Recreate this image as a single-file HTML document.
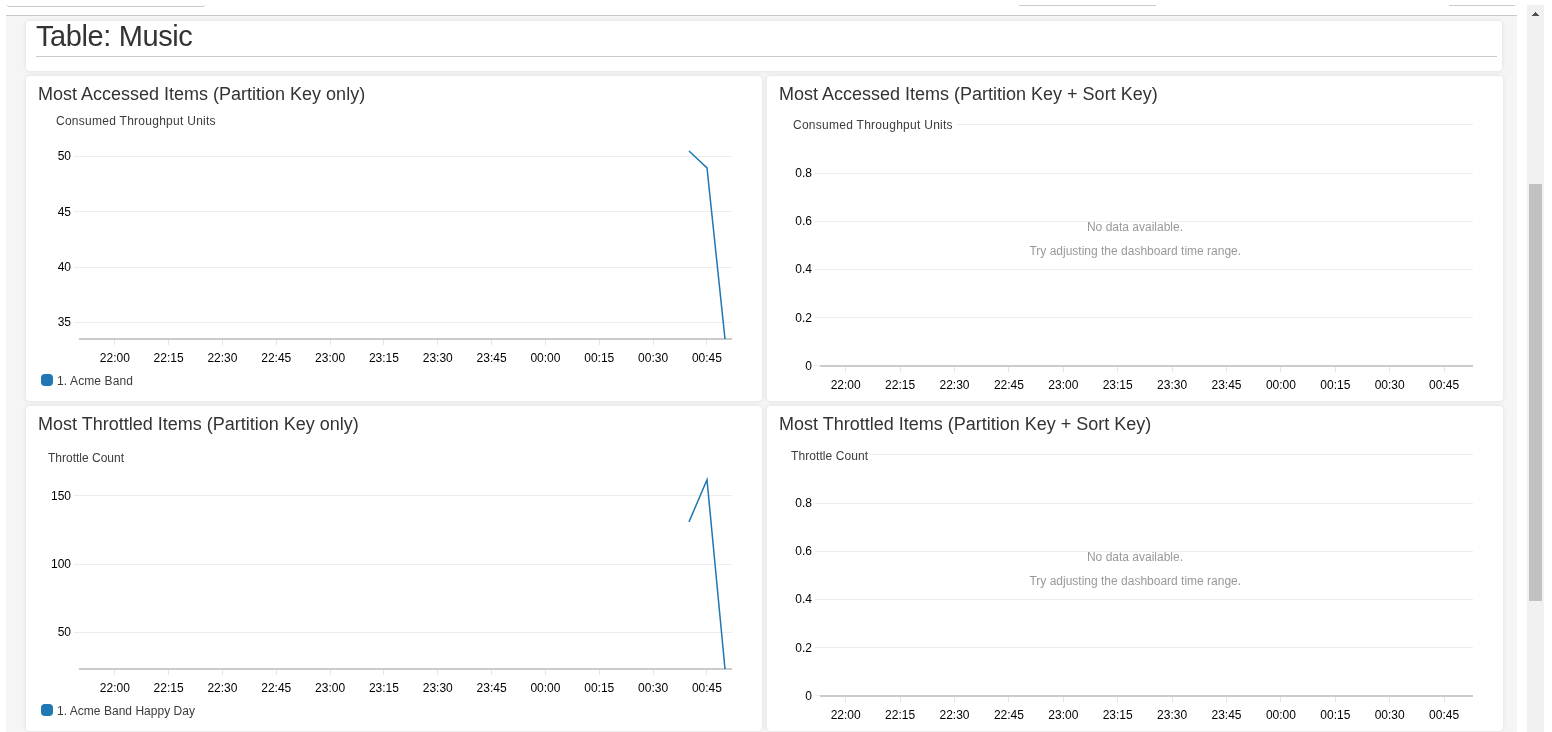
<!DOCTYPE html>
<html><head><meta charset="utf-8"><title>Table: Music</title>
<style>
html,body{margin:0;padding:0;}
body{width:1552px;height:732px;overflow:hidden;background:#fff;position:relative;font-family:"Liberation Sans",Arial,sans-serif;color:#333;}
.panel{position:absolute;left:6px;top:15px;width:1511px;height:717px;background:#f5f5f5;border-top:1px solid #cacaca;box-sizing:border-box;}
.card{position:absolute;background:#fff;border-radius:4px;box-shadow:0 0 4px rgba(0,0,0,0.1);}
.topline{position:absolute;height:1px;background:#cbcbcb;}
h1{position:absolute;margin:0;left:36px;top:20px;letter-spacing:-0.4px;font-size:29px;font-weight:normal;line-height:32px;color:#333;white-space:nowrap;}
.hr{position:absolute;left:36px;top:56px;width:1461px;height:1px;background:#cbcbcb;}
.t{position:absolute;margin:0;font-size:18px;font-weight:normal;line-height:22px;color:#333;white-space:nowrap;}
svg{position:absolute;left:0;top:0;}
svg text{font-family:"Liberation Sans",Arial,sans-serif;font-size:12px;}
.g{stroke:#ececec;stroke-width:1;shape-rendering:crispEdges;}
.ax{fill:#cbcbcb;}
.tk{fill:#e4e4e4;}
.yl,.xl{fill:#000;}
.lab{fill:#3c3c3c;}
.nd{fill:#999;}
.ln{fill:none;stroke:#1f77b4;stroke-width:1.5;stroke-linejoin:miter;stroke-miterlimit:10;}
.sb{position:absolute;left:1527px;top:5px;width:17px;height:727px;background:#f1f1f1;}
.thumb{position:absolute;left:2px;top:179px;width:13px;height:417px;background:#c1c1c1;}
.a{position:absolute;height:1px;background:#505050;}
</style></head><body>
<div class="topline" style="left:8px;top:6px;width:196px;"></div><div class="topline" style="left:7px;top:5px;width:1px;background:#d4d4d4"></div><div class="topline" style="left:204px;top:5px;width:1px;background:#d4d4d4"></div>
<div class="topline" style="left:1019px;top:5px;width:137px;"></div>
<div class="topline" style="left:1449px;top:5px;width:66px;"></div>
<div class="panel"></div>
<div class="card" style="left:26px;top:21px;width:1476px;height:50px;"></div>
<h1>Table: Music</h1>
<div class="hr"></div>
<div class="card" style="left:26px;top:76px;width:736px;height:325px;"></div>
<div class="card" style="left:767px;top:76px;width:736px;height:325px;"></div>
<div class="card" style="left:26px;top:406px;width:736px;height:325px;"></div>
<div class="card" style="left:767px;top:406px;width:736px;height:325px;"></div>
<div class="t" style="left:38px;top:83px;">Most Accessed Items (Partition Key only)</div>
<div class="t" style="left:779px;top:83px;">Most Accessed Items (Partition Key + Sort Key)</div>
<div class="t" style="left:38px;top:413px;">Most Throttled Items (Partition Key only)</div>
<div class="t" style="left:779px;top:413px;">Most Throttled Items (Partition Key + Sort Key)</div>
<svg width="1552" height="732" viewBox="0 0 1552 732">
<line x1="74" y1="156.5" x2="732" y2="156.5" class="g"/>
<text x="71" y="160" class="yl" text-anchor="end">50</text>
<line x1="74" y1="211.5" x2="732" y2="211.5" class="g"/>
<text x="71" y="216" class="yl" text-anchor="end">45</text>
<line x1="74" y1="267.5" x2="732" y2="267.5" class="g"/>
<text x="71" y="271" class="yl" text-anchor="end">40</text>
<line x1="74" y1="322.5" x2="732" y2="322.5" class="g"/>
<text x="71" y="326" class="yl" text-anchor="end">35</text>
<rect x="79" y="338" width="653" height="2" class="ax"/>
<rect x="114" y="340" width="1" height="5" class="tk"/>
<text x="114.80" y="362" class="xl" text-anchor="middle">22:00</text>
<rect x="168" y="340" width="1" height="5" class="tk"/>
<text x="168.63" y="362" class="xl" text-anchor="middle">22:15</text>
<rect x="222" y="340" width="1" height="5" class="tk"/>
<text x="222.46" y="362" class="xl" text-anchor="middle">22:30</text>
<rect x="276" y="340" width="1" height="5" class="tk"/>
<text x="276.29" y="362" class="xl" text-anchor="middle">22:45</text>
<rect x="330" y="340" width="1" height="5" class="tk"/>
<text x="330.12" y="362" class="xl" text-anchor="middle">23:00</text>
<rect x="383" y="340" width="1" height="5" class="tk"/>
<text x="383.95" y="362" class="xl" text-anchor="middle">23:15</text>
<rect x="437" y="340" width="1" height="5" class="tk"/>
<text x="437.78" y="362" class="xl" text-anchor="middle">23:30</text>
<rect x="491" y="340" width="1" height="5" class="tk"/>
<text x="491.61" y="362" class="xl" text-anchor="middle">23:45</text>
<rect x="545" y="340" width="1" height="5" class="tk"/>
<text x="545.44" y="362" class="xl" text-anchor="middle">00:00</text>
<rect x="599" y="340" width="1" height="5" class="tk"/>
<text x="599.27" y="362" class="xl" text-anchor="middle">00:15</text>
<rect x="653" y="340" width="1" height="5" class="tk"/>
<text x="653.10" y="362" class="xl" text-anchor="middle">00:30</text>
<rect x="706" y="340" width="1" height="5" class="tk"/>
<text x="706.93" y="362" class="xl" text-anchor="middle">00:45</text>
<text x="56" y="125" class="lab" textLength="159.6" lengthAdjust="spacing">Consumed Throughput Units</text>
<clipPath id="cp1"><rect x="74" y="138" width="660" height="201"/></clipPath>
<polyline points="689,151 707,167.9 726.15,350" class="ln" clip-path="url(#cp1)"/>
<rect x="41" y="374" width="12" height="12" rx="4" ry="4" fill="#1f77b4"/>
<text x="57" y="385" class="lab" textLength="76" lengthAdjust="spacing">1. Acme Band</text>
<line x1="957" y1="124.5" x2="1473" y2="124.5" class="g"/>
<line x1="815" y1="173.5" x2="1473" y2="173.5" class="g"/>
<text x="812" y="177" class="yl" text-anchor="end">0.8</text>
<line x1="815" y1="221.5" x2="1473" y2="221.5" class="g"/>
<text x="812" y="225" class="yl" text-anchor="end">0.6</text>
<line x1="815" y1="269.5" x2="1473" y2="269.5" class="g"/>
<text x="812" y="273" class="yl" text-anchor="end">0.4</text>
<line x1="815" y1="317.5" x2="1473" y2="317.5" class="g"/>
<text x="812" y="322" class="yl" text-anchor="end">0.2</text>
<line x1="815" y1="365.5" x2="1473" y2="365.5" class="g"/>
<text x="812" y="370" class="yl" text-anchor="end">0</text>
<rect x="820" y="365" width="653" height="2" class="ax"/>
<rect x="845" y="367" width="1" height="5" class="tk"/>
<text x="845.70" y="389" class="xl" text-anchor="middle">22:00</text>
<rect x="900" y="367" width="1" height="5" class="tk"/>
<text x="900.10" y="389" class="xl" text-anchor="middle">22:15</text>
<rect x="954" y="367" width="1" height="5" class="tk"/>
<text x="954.50" y="389" class="xl" text-anchor="middle">22:30</text>
<rect x="1008" y="367" width="1" height="5" class="tk"/>
<text x="1008.90" y="389" class="xl" text-anchor="middle">22:45</text>
<rect x="1063" y="367" width="1" height="5" class="tk"/>
<text x="1063.30" y="389" class="xl" text-anchor="middle">23:00</text>
<rect x="1117" y="367" width="1" height="5" class="tk"/>
<text x="1117.70" y="389" class="xl" text-anchor="middle">23:15</text>
<rect x="1172" y="367" width="1" height="5" class="tk"/>
<text x="1172.10" y="389" class="xl" text-anchor="middle">23:30</text>
<rect x="1226" y="367" width="1" height="5" class="tk"/>
<text x="1226.50" y="389" class="xl" text-anchor="middle">23:45</text>
<rect x="1280" y="367" width="1" height="5" class="tk"/>
<text x="1280.90" y="389" class="xl" text-anchor="middle">00:00</text>
<rect x="1335" y="367" width="1" height="5" class="tk"/>
<text x="1335.30" y="389" class="xl" text-anchor="middle">00:15</text>
<rect x="1389" y="367" width="1" height="5" class="tk"/>
<text x="1389.70" y="389" class="xl" text-anchor="middle">00:30</text>
<rect x="1444" y="367" width="1" height="5" class="tk"/>
<text x="1444.10" y="389" class="xl" text-anchor="middle">00:45</text>
<text x="793" y="129" class="lab" textLength="159.6" lengthAdjust="spacing">Consumed Throughput Units</text>
<text x="1135" y="231" class="nd" text-anchor="middle">No data available.</text>
<text x="1135.3" y="255" class="nd" text-anchor="middle">Try adjusting the dashboard time range.</text>
<line x1="74" y1="495.5" x2="732" y2="495.5" class="g"/>
<text x="71" y="500" class="yl" text-anchor="end">150</text>
<line x1="74" y1="564.5" x2="732" y2="564.5" class="g"/>
<text x="71" y="568" class="yl" text-anchor="end">100</text>
<line x1="74" y1="632.5" x2="732" y2="632.5" class="g"/>
<text x="71" y="636" class="yl" text-anchor="end">50</text>
<rect x="79" y="668" width="653" height="2" class="ax"/>
<rect x="114" y="670" width="1" height="5" class="tk"/>
<text x="114.80" y="692" class="xl" text-anchor="middle">22:00</text>
<rect x="168" y="670" width="1" height="5" class="tk"/>
<text x="168.63" y="692" class="xl" text-anchor="middle">22:15</text>
<rect x="222" y="670" width="1" height="5" class="tk"/>
<text x="222.46" y="692" class="xl" text-anchor="middle">22:30</text>
<rect x="276" y="670" width="1" height="5" class="tk"/>
<text x="276.29" y="692" class="xl" text-anchor="middle">22:45</text>
<rect x="330" y="670" width="1" height="5" class="tk"/>
<text x="330.12" y="692" class="xl" text-anchor="middle">23:00</text>
<rect x="383" y="670" width="1" height="5" class="tk"/>
<text x="383.95" y="692" class="xl" text-anchor="middle">23:15</text>
<rect x="437" y="670" width="1" height="5" class="tk"/>
<text x="437.78" y="692" class="xl" text-anchor="middle">23:30</text>
<rect x="491" y="670" width="1" height="5" class="tk"/>
<text x="491.61" y="692" class="xl" text-anchor="middle">23:45</text>
<rect x="545" y="670" width="1" height="5" class="tk"/>
<text x="545.44" y="692" class="xl" text-anchor="middle">00:00</text>
<rect x="599" y="670" width="1" height="5" class="tk"/>
<text x="599.27" y="692" class="xl" text-anchor="middle">00:15</text>
<rect x="653" y="670" width="1" height="5" class="tk"/>
<text x="653.10" y="692" class="xl" text-anchor="middle">00:30</text>
<rect x="706" y="670" width="1" height="5" class="tk"/>
<text x="706.93" y="692" class="xl" text-anchor="middle">00:45</text>
<text x="48" y="462" class="lab">Throttle Count</text>
<clipPath id="cp3"><rect x="74" y="468" width="660" height="201"/></clipPath>
<polyline points="689,521.9 707,479.8 726.04,680" class="ln" clip-path="url(#cp3)"/>
<rect x="41" y="704" width="12" height="12" rx="4" ry="4" fill="#1f77b4"/>
<text x="57" y="715" class="lab" textLength="138" lengthAdjust="spacing">1. Acme Band Happy Day</text>
<line x1="870" y1="454.5" x2="1473" y2="454.5" class="g"/>
<line x1="815" y1="503.5" x2="1473" y2="503.5" class="g"/>
<text x="812" y="507" class="yl" text-anchor="end">0.8</text>
<line x1="815" y1="551.5" x2="1473" y2="551.5" class="g"/>
<text x="812" y="555" class="yl" text-anchor="end">0.6</text>
<line x1="815" y1="599.5" x2="1473" y2="599.5" class="g"/>
<text x="812" y="603" class="yl" text-anchor="end">0.4</text>
<line x1="815" y1="647.5" x2="1473" y2="647.5" class="g"/>
<text x="812" y="652" class="yl" text-anchor="end">0.2</text>
<line x1="815" y1="695.5" x2="1473" y2="695.5" class="g"/>
<text x="812" y="700" class="yl" text-anchor="end">0</text>
<rect x="820" y="695" width="653" height="2" class="ax"/>
<rect x="845" y="697" width="1" height="5" class="tk"/>
<text x="845.70" y="719" class="xl" text-anchor="middle">22:00</text>
<rect x="900" y="697" width="1" height="5" class="tk"/>
<text x="900.10" y="719" class="xl" text-anchor="middle">22:15</text>
<rect x="954" y="697" width="1" height="5" class="tk"/>
<text x="954.50" y="719" class="xl" text-anchor="middle">22:30</text>
<rect x="1008" y="697" width="1" height="5" class="tk"/>
<text x="1008.90" y="719" class="xl" text-anchor="middle">22:45</text>
<rect x="1063" y="697" width="1" height="5" class="tk"/>
<text x="1063.30" y="719" class="xl" text-anchor="middle">23:00</text>
<rect x="1117" y="697" width="1" height="5" class="tk"/>
<text x="1117.70" y="719" class="xl" text-anchor="middle">23:15</text>
<rect x="1172" y="697" width="1" height="5" class="tk"/>
<text x="1172.10" y="719" class="xl" text-anchor="middle">23:30</text>
<rect x="1226" y="697" width="1" height="5" class="tk"/>
<text x="1226.50" y="719" class="xl" text-anchor="middle">23:45</text>
<rect x="1280" y="697" width="1" height="5" class="tk"/>
<text x="1280.90" y="719" class="xl" text-anchor="middle">00:00</text>
<rect x="1335" y="697" width="1" height="5" class="tk"/>
<text x="1335.30" y="719" class="xl" text-anchor="middle">00:15</text>
<rect x="1389" y="697" width="1" height="5" class="tk"/>
<text x="1389.70" y="719" class="xl" text-anchor="middle">00:30</text>
<rect x="1444" y="697" width="1" height="5" class="tk"/>
<text x="1444.10" y="719" class="xl" text-anchor="middle">00:45</text>
<text x="791" y="460" class="lab" textLength="77" lengthAdjust="spacing">Throttle Count</text>
<text x="1135" y="561" class="nd" text-anchor="middle">No data available.</text>
<text x="1135.3" y="585" class="nd" text-anchor="middle">Try adjusting the dashboard time range.</text>
</svg>
<div class="sb"><i class="a" style="left:8px;top:7px;width:1px"></i><i class="a" style="left:7px;top:8px;width:3px"></i><i class="a" style="left:6px;top:9px;width:5px"></i><i class="a" style="left:5px;top:10px;width:7px"></i><div class="thumb"></div></div>
</body></html>
